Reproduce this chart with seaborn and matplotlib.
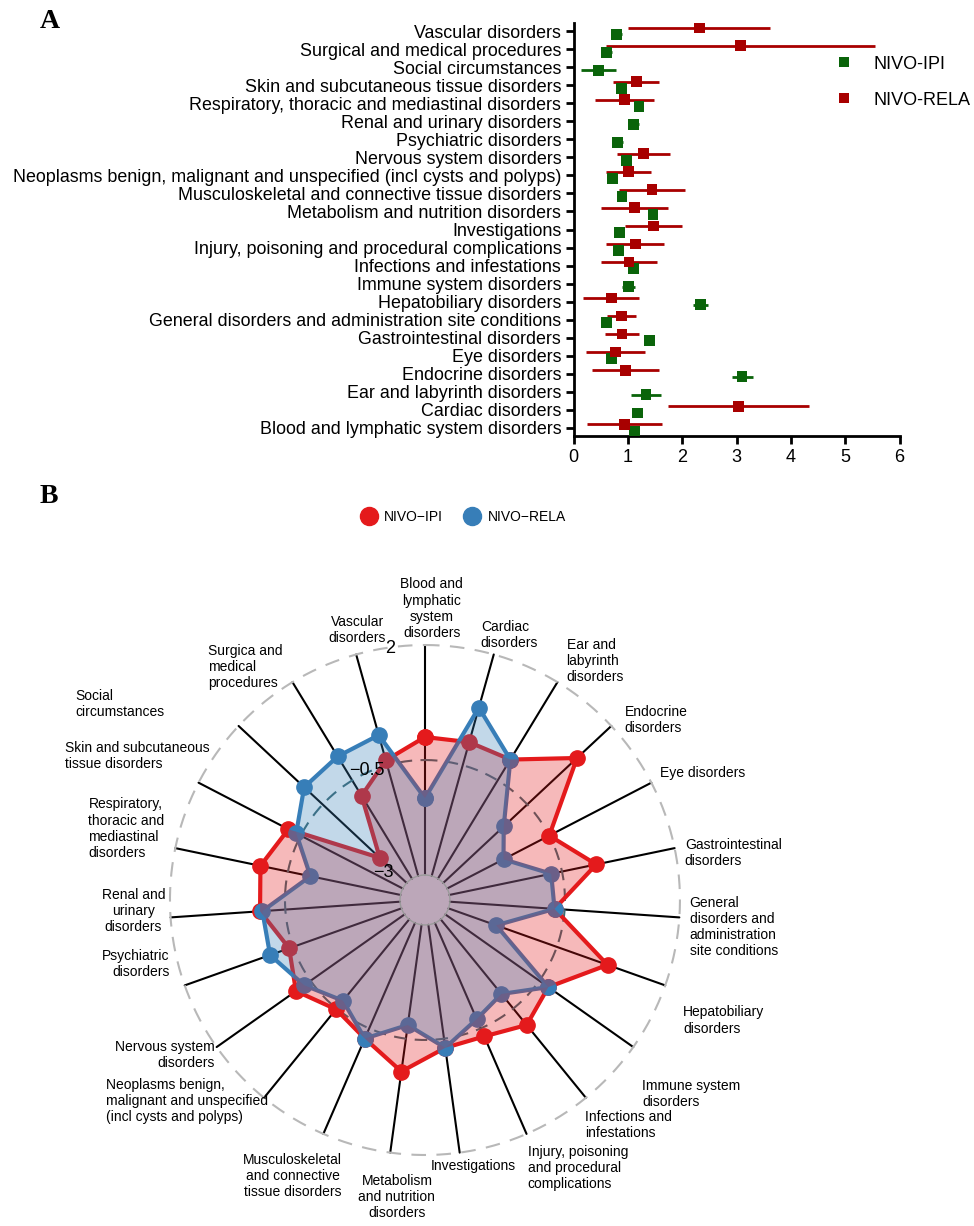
import numpy as np
import pandas as pd
import matplotlib
matplotlib.use('Agg')
import matplotlib.pyplot as plt
from matplotlib.lines import Line2D
import seaborn as sns

# ---- data ----
categories = [
    'Blood and lymphatic system disorders', 'Cardiac disorders', 'Ear and labyrinth disorders',
    'Endocrine disorders', 'Eye disorders', 'Gastrointestinal disorders',
    'General disorders and administration site conditions', 'Hepatobiliary disorders',
    'Immune system disorders', 'Infections and infestations',
    'Injury, poisoning and procedural complications', 'Investigations',
    'Metabolism and nutrition disorders', 'Musculoskeletal and connective tissue disorders',
    'Neoplasms benign, malignant and unspecified (incl cysts and polyps)',
    'Nervous system disorders', 'Psychiatric disorders', 'Renal and urinary disorders',
    'Respiratory, thoracic and mediastinal disorders', 'Skin and subcutaneous tissue disorders',
    'Social circumstances', 'Surgical and medical procedures', 'Vascular disorders',
]

ipi_ror = [1.12, 1.18, 1.33, 3.10, 0.69, 1.40, 0.60, 2.34, 1.01, 1.10, 0.82, 0.85,
           1.46, 0.89, 0.71, 0.97, 0.80, 1.10, 1.20, 0.88, 0.45, 0.60, 0.785]
ipi_low = [1.04, 1.09, 1.06, 2.92, 0.64, 1.35, 0.57, 2.20, 0.89, 1.04, 0.77, 0.80,
           1.40, 0.84, 0.66, 0.93, 0.71, 1.00, 1.15, 0.83, 0.14, 0.51, 0.68]
ipi_high = [1.20, 1.26, 1.60, 3.30, 0.74, 1.45, 0.63, 2.47, 1.13, 1.16, 0.87, 0.90,
            1.52, 0.94, 0.76, 1.01, 0.90, 1.20, 1.25, 0.93, 0.77, 0.71, 0.89]

rela_ror = [0.94, 3.04, np.nan, 0.95, 0.77, 0.89, 0.88, 0.70, np.nan, 1.02, 1.14, 1.47,
            1.12, 1.44, 1.01, 1.29, np.nan, np.nan, 0.94, 1.15, np.nan, 3.07, 2.31]
rela_low = [0.25, 1.74, np.nan, 0.33, 0.23, 0.57, 0.61, 0.18, np.nan, 0.50, 0.60, 0.94,
            0.51, 0.83, 0.60, 0.80, np.nan, np.nan, 0.40, 0.72, np.nan, 0.60, 1.00]
rela_high = [1.63, 4.34, np.nan, 1.57, 1.32, 1.20, 1.14, 1.21, np.nan, 1.54, 1.67, 2.00,
             1.74, 2.05, 1.42, 1.78, np.nan, np.nan, 1.47, 1.57, np.nan, 5.54, 3.62]

radar_labels = [
    'Blood and\nlymphatic\nsystem\ndisorders', 'Cardiac\ndisorders', 'Ear and\nlabyrinth\ndisorders',
    'Endocrine\ndisorders', 'Eye disorders', 'Gastrointestinal\ndisorders',
    'General\ndisorders and\nadministration\nsite conditions', 'Hepatobiliary\ndisorders',
    'Immune system\ndisorders', 'Infections and\ninfestations',
    'Injury, poisoning\nand procedural\ncomplications', 'Investigations',
    'Metabolism\nand nutrition\ndisorders', 'Musculoskeletal\nand connective\ntissue disorders',
    'Neoplasms benign,\nmalignant and unspecified\n(incl cysts and polyps)',
    'Nervous system\ndisorders', 'Psychiatric\ndisorders', 'Renal and\nurinary\ndisorders',
    'Respiratory,\nthoracic and\nmediastinal\ndisorders', 'Skin and subcutaneous\ntissue disorders',
    'Social\ncircumstances', 'Surgica and\nmedical\nprocedures', 'Vascular\ndisorders',
]
ipi_radar = [0.0, 0.02, 0.03, 0.98, -0.5, 0.26, -0.72, 0.67, -0.26, -0.04, -0.31, -0.30,
             0.22, -0.26, -0.48, -0.11, -0.41, 0.05, 0.11, -0.2, -2.2, -0.89, -0.39]
rela_radar = [-1.33, 0.80, 0.03, -1.20, -1.62, -0.74, -0.72, -1.9, -0.26, -0.91, -0.72, -0.30,
              -0.80, -0.26, -0.72, -0.33, 0.03, 0.0, -1.0, -0.39, 0.05, 0.11, 0.18]
radar_ticks = [2, -0.5, -3]

# label anchors around the radar: (angle deg, distance px from centre, ha, va, multialign)
label_layout = [
    (1.5, 260, 'center', 'bottom', 'center'), (12.6, 256, 'left', 'bottom', 'left'),
    (33.3, 258, 'left', 'bottom', 'left'), (48, 269, 'left', 'center', 'left'),
    (61.6, 267, 'left', 'center', 'left'), (79.8, 264, 'left', 'center', 'left'),
    (95.8, 266, 'left', 'center', 'left'), (115, 285, 'left', 'center', 'left'),
    (131.8, 291, 'left', 'center', 'left'), (144.6, 276, 'left', 'center', 'left'),
    (159, 287, 'left', 'center', 'left'), (169.6, 270, 'center', 'center', 'center'),
    (185.4, 298, 'center', 'center', 'center'), (205.6, 306, 'center', 'center', 'center'),
    (229.8, 311, 'center', 'center', 'left'), (233.6, 261, 'right', 'center', 'right'),
    (256, 263, 'right', 'center', 'right'), (267.6, 260, 'right', 'center', 'center'),
    (285.3, 270, 'right', 'center', 'left'), (303.8, 259, 'right', 'center', 'left'),
    (307, 326, 'right', 'center', 'left'), (328.6, 273, 'right', 'center', 'left'),
    (345.9, 278, 'center', 'center', 'center'),
]

sns.set_theme(style='ticks')
plt.rcParams['font.family'] = ['Liberation Sans', 'DejaVu Sans']
for k in ['text.color', 'axes.labelcolor', 'xtick.color', 'ytick.color', 'axes.edgecolor']:
    plt.rcParams[k] = 'black'

fig = plt.figure(figsize=(9.74, 12.26), dpi=100)

# ---- panel A: forest plot ----
green = '#0a640a'
dark_red = '#a80000'
ax_a = fig.add_axes([0.589, 0.6444, 0.3347, 0.3368])

pos = np.arange(len(categories))
ipi = pd.DataFrame({'y': pos - 0.17, 'ror': ipi_ror, 'low': ipi_low, 'high': ipi_high,
                    'group': 'NIVO-IPI'})
rela = pd.DataFrame({'y': pos + 0.2, 'ror': rela_ror, 'low': rela_low, 'high': rela_high,
                     'group': 'NIVO-RELA'})
df = pd.concat([ipi, rela]).dropna()

palette = {'NIVO-IPI': green, 'NIVO-RELA': dark_red}
for g, sub in df.groupby('group'):
    ax_a.hlines(sub['y'], sub['low'], sub['high'], color=palette[g], lw=2, zorder=2)
sns.scatterplot(data=df, x='ror', y='y', hue='group', hue_order=['NIVO-IPI', 'NIVO-RELA'],
                palette=palette, marker='s', s=60, linewidth=0, ax=ax_a, zorder=3)

ax_a.set_xlim(0, 6)
ax_a.set_ylim(-0.45, 22.45)
ax_a.set_xticks(range(7))
ax_a.set_yticks(pos)
ax_a.set_yticklabels(categories, fontsize=12.9)
ax_a.tick_params(axis='x', labelsize=13, width=2, length=6)
ax_a.tick_params(axis='y', width=2, length=6, pad=3)
ax_a.set_xlabel('')
ax_a.set_ylabel('')
for s in ['left', 'bottom']:
    ax_a.spines[s].set_linewidth(2)
sns.despine(ax=ax_a)
sns.move_legend(ax_a, 'upper left', bbox_to_anchor=(0.725, 0.96), frameon=False, title=None,
                fontsize=13, labelspacing=1.05, handletextpad=0.6, markerscale=1.0)

# ---- panel B: radar ----
red = '#e41a1c'
blue = '#377eb8'
n = len(radar_labels)
theta = np.linspace(0, 2 * np.pi, n, endpoint=False)
r0 = -3.543
px_per_unit = 46.0
ax_b = fig.add_axes([0.1745, 0.0579, 0.5236, 0.416], projection='polar')
ax_b.set_theta_zero_location('N')
ax_b.set_theta_direction(-1)
ax_b.set_ylim(r0, 2)
ax_b.axis('off')

for t in theta:
    ax_b.plot([t, t], [-3, 2], color='black', lw=1.5, zorder=1, clip_on=False)

circ = np.linspace(0, 2 * np.pi, 400)
ax_b.plot(circ, np.full_like(circ, 2.0), color='#b8b8b8', lw=1.5, ls=(0, (7, 5)), clip_on=False)
ax_b.plot(circ, np.full_like(circ, -0.5), color='#3d6a72', lw=1.5, ls=(0, (6, 4)), zorder=1.5)
ax_b.plot(circ, np.full_like(circ, -3.0), color='#9a9a9a', lw=1, zorder=6)

tc = np.append(theta, theta[0])
ipi_c = np.append(ipi_radar, ipi_radar[0])
rela_c = np.append(rela_radar, rela_radar[0])
ax_b.plot(tc, ipi_c, color=red, lw=3, marker='o', ms=11, zorder=2, clip_on=False)
ax_b.plot(tc, rela_c, color=blue, lw=3, marker='o', ms=11, zorder=3, clip_on=False)
ax_b.fill(theta, ipi_radar, color=red, alpha=0.3, lw=0, zorder=4)
ax_b.fill(theta, rela_radar, color=blue, alpha=0.3, lw=0, zorder=5)

# radial tick labels
for val, (ang, rr) in zip(radar_ticks, [(-7.9, 1.98), (-24, -0.46), (-57, -2.46)]):
    txt = str(val).replace('-', '\u2212')
    ax_b.text(np.deg2rad(ang), rr, txt, fontsize=13, ha='center', va='center', zorder=7)

# category labels
for lab, (ang, dist, ha, va, ma) in zip(radar_labels, label_layout):
    ax_b.text(np.deg2rad(ang), r0 + dist / px_per_unit, lab, fontsize=10,
              ha=ha, va=va, multialignment=ma)

handles = [Line2D([], [], ls='', marker='o', ms=13, color=red, label='NIVO\u2212IPI'),
           Line2D([], [], ls='', marker='o', ms=13, color=blue, label='NIVO\u2212RELA')]
fig.legend(handles=handles, loc='center', bbox_to_anchor=(463 / 974, 1 - 517 / 1226),
           ncol=2, frameon=False, fontsize=10, handletextpad=0.5, columnspacing=1.5,
           handlelength=1.2)

fig.text(40 / 974, 1 - 28 / 1226, 'A', fontsize=20, fontweight='bold',
         family='Liberation Serif', va='baseline')
fig.text(40 / 974, 1 - 503 / 1226, 'B', fontsize=20, fontweight='bold',
         family='Liberation Serif', va='baseline')

fig.savefig('out.png', dpi=100, facecolor='white')
